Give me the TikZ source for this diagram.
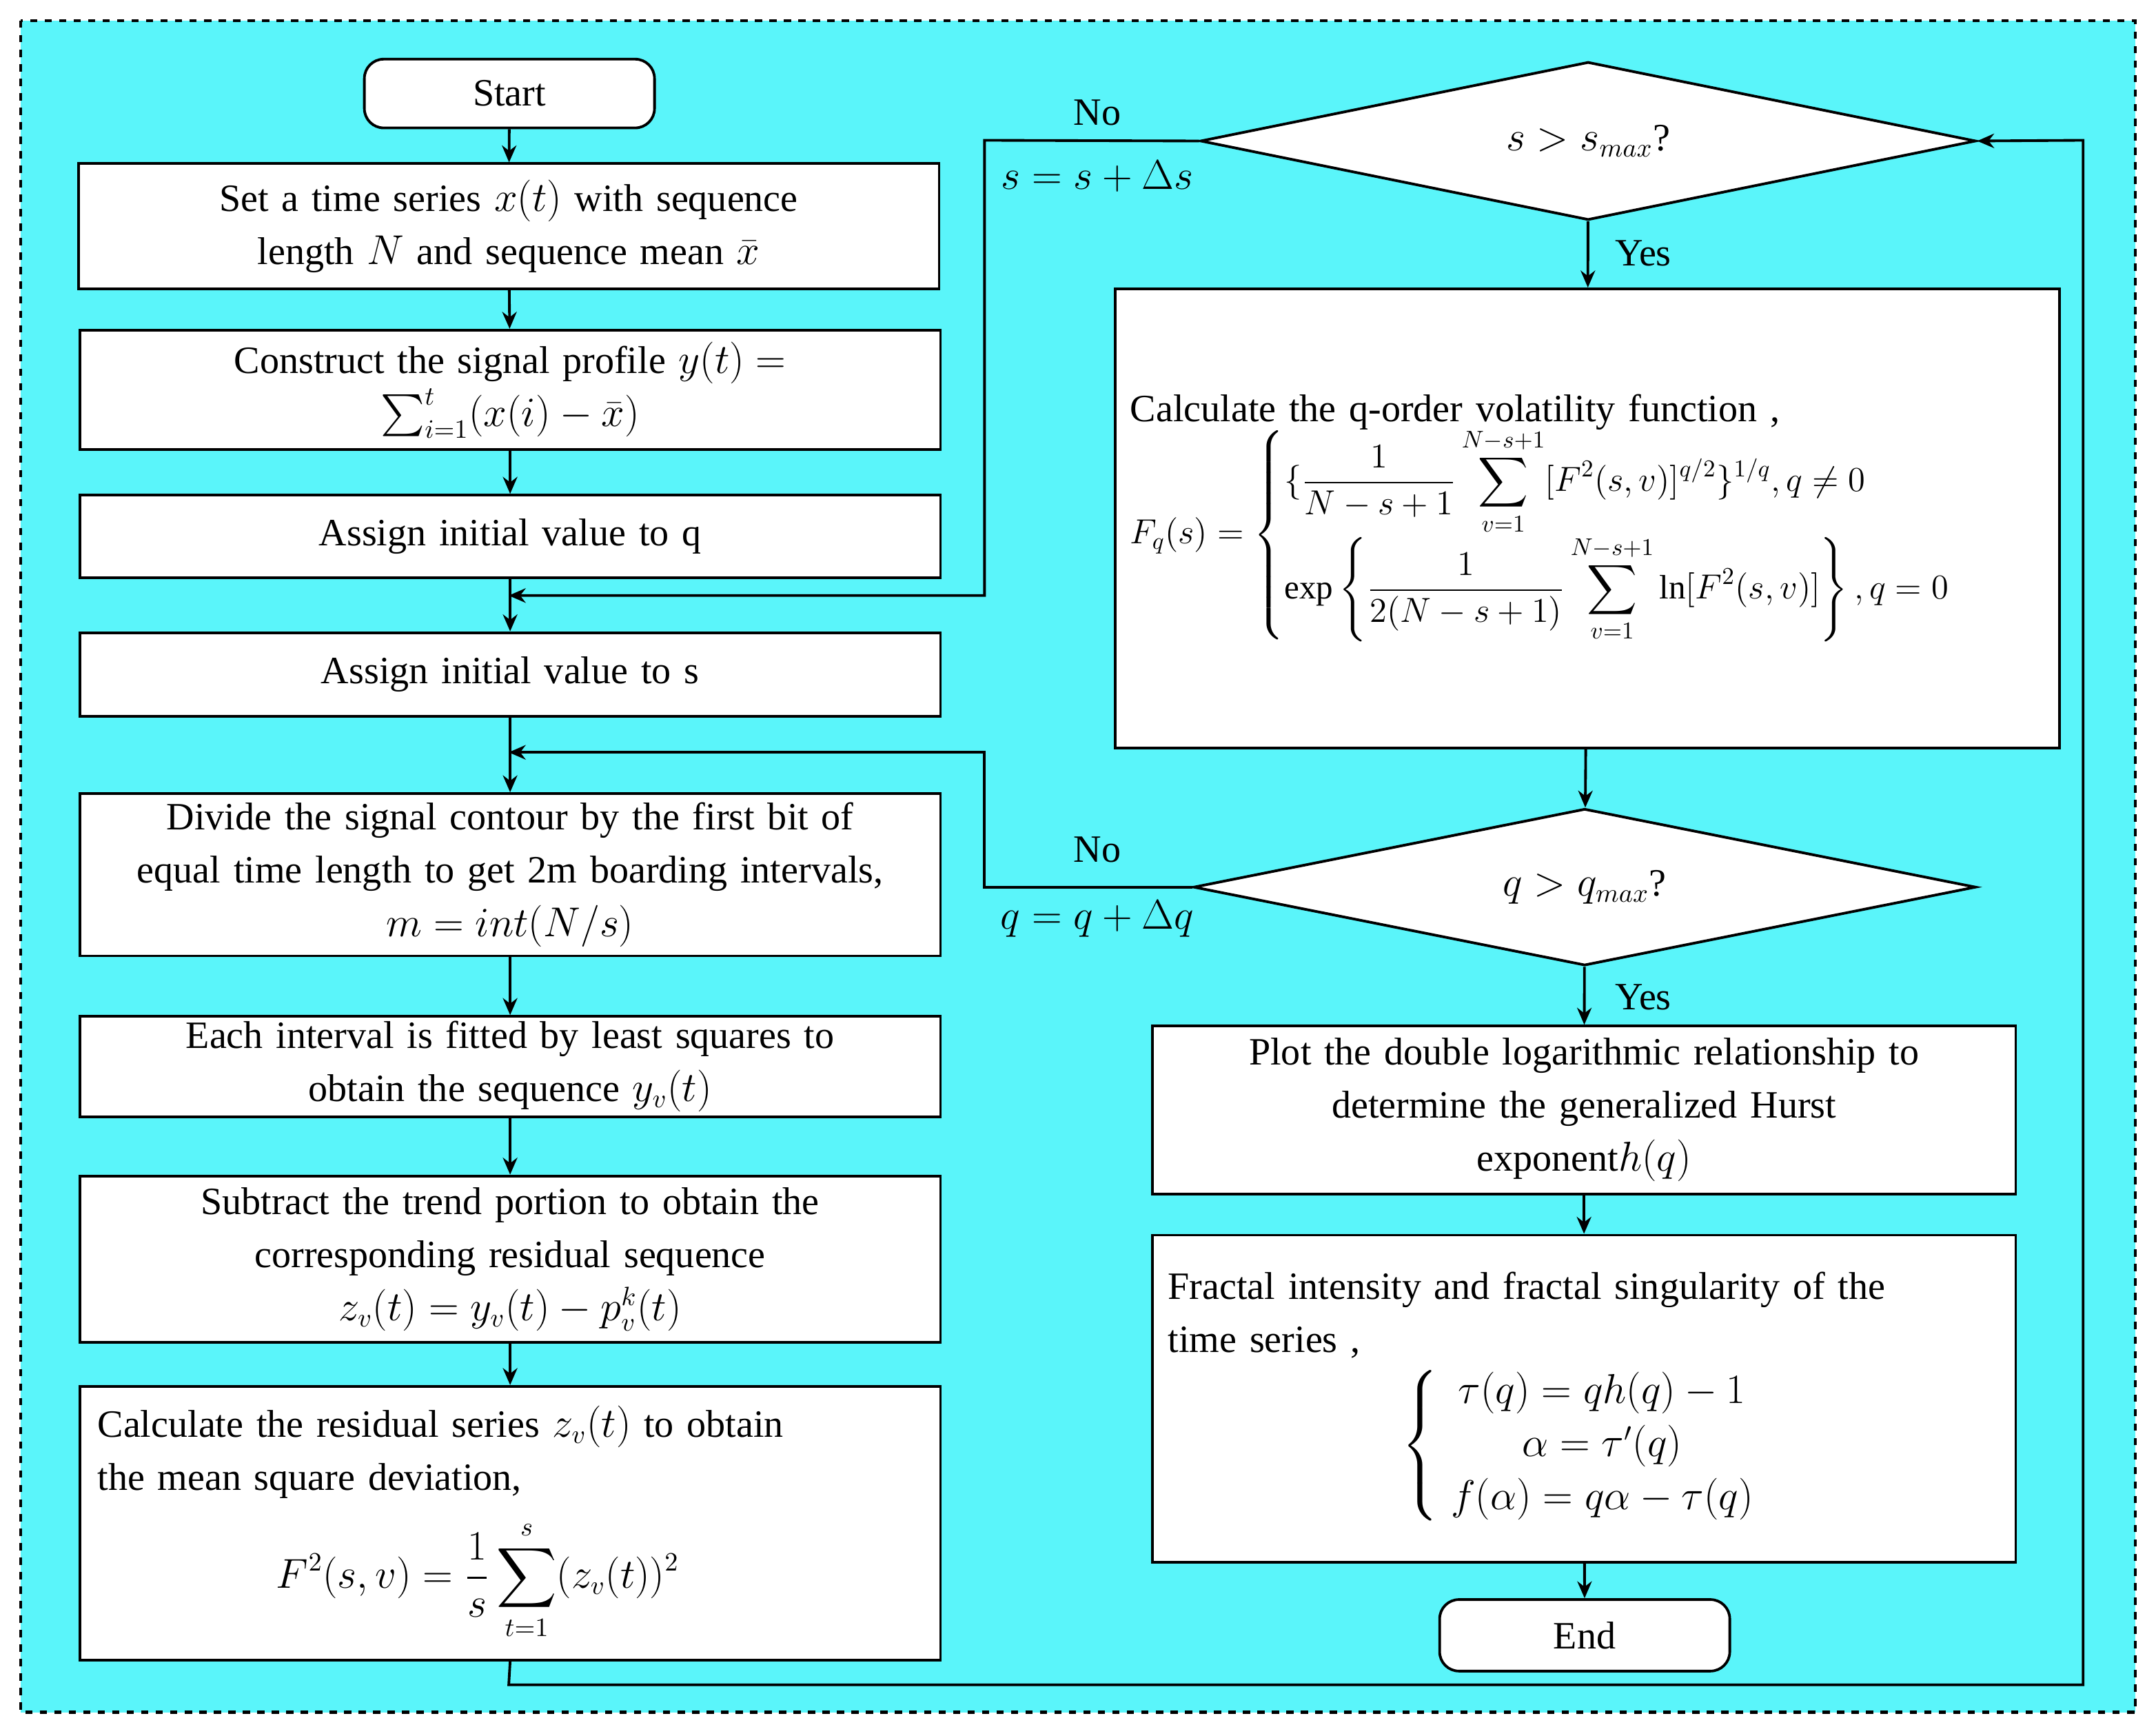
\documentclass[tikz,border=0pt]{standalone}
\usepackage{amsmath}
\usepackage{fontspec}
\setmainfont{Liberation Serif}
\usetikzlibrary{shapes.geometric,arrows.meta}
\definecolor{bg}{RGB}{90,245,250}
\def\u{0.02cm}
\begin{document}
\begin{tikzpicture}[x=0.02cm,y=-0.02cm,
 box/.style={draw,line width=1.1pt,fill=white,align=center,inner sep=2pt,font=\fontsize{16pt}{22pt}\selectfont},
 term/.style={box,rounded corners=8pt},
 dia/.style={draw,line width=1.1pt,fill=white,diamond,inner sep=0pt,font=\fontsize{16pt}{20pt}\selectfont},
 arr/.style={line width=1.1pt,-{Stealth[length=7pt,width=6pt]}},
 lbl/.style={font=\fontsize{16pt}{19pt}\selectfont}]
\useasboundingbox (0,0) rectangle (1568,1262);
\draw[dashed,line width=1.3pt,fill=bg] (15,15) rectangle (1553,1245);
\node[term,minimum width=211*\u,minimum height=50*\u] (start) at (370.5,68) {Start};
\node[box,minimum width=626*\u,minimum height=91*\u,text width=610*\u] (b1) at (370,164.5) {Set a time series \mbox{$x(t)$} with sequence\\ length \mbox{$N$} and sequence mean \mbox{$\bar{x}$}};
\node[box,minimum width=626*\u,minimum height=87*\u,text width=610*\u] (b2) at (371,283.5) {Construct the signal profile \mbox{$y(t)=$}\\ \mbox{$\sum_{i=1}^{t}(x(i)-\bar{x})$}};
\node[box,minimum width=626*\u,minimum height=60*\u,text width=610*\u] (b3) at (371,390) {Assign initial value to q};
\node[box,minimum width=626*\u,minimum height=61*\u,text width=610*\u] (b4) at (371,490.5) {Assign initial value to s};
\node[box,minimum width=626*\u,minimum height=118*\u,text width=610*\u] (b5) at (371,636) {Divide the signal contour by the first bit of\\ equal time length to get 2m boarding intervals,\\ \mbox{$m=int(N/s)$}};
\node[box,minimum width=626*\u,minimum height=71*\u,text width=610*\u] (b6) at (371,775.5) {Each interval is fitted by least squares to\\ obtain the sequence \mbox{$y_v(t)$}};
\node[box,minimum width=626*\u,minimum height=121*\u,text width=610*\u] (b7) at (371,915.5) {Subtract the trend portion to obtain the\\ corresponding residual sequence\\ \mbox{$z_v(t)=y_v(t)-p_v^k(t)$}};
\node[box,minimum width=626*\u,minimum height=199*\u,text width=600*\u,align=left] (b8) at (371,1107.5) {Calculate the residual series \mbox{$z_v(t)$} to obtain\\ the mean square deviation,\\[8pt]
 \hspace*{2.6cm}\mbox{$\displaystyle F^2(s,v)=\frac{1}{s}\sum_{t=1}^{s}(z_v(t))^2$}};
\node[dia,minimum width=564*\u,minimum height=115*\u,aspect=4.9] (d1) at (1155,102.5) {$s>s_{max}$?};
\node[box,minimum width=687*\u,minimum height=334*\u,text width=665*\u,align=left] (r1) at (1154.5,377) {Calculate the q-order volatility function ,\\[-2pt]
 {\fontsize{14pt}{18pt}\selectfont\mbox{$F_q(s)=\begin{cases}\{\dfrac{1}{N-s+1}\displaystyle\sum_{v=1}^{N-s+1}[F^2(s,v)]^{q/2}\}^{1/q},q\neq 0\\[4pt]
 \exp\left\{\dfrac{1}{2(N-s+1)}\displaystyle\sum_{v=1}^{N-s+1}\ln[F^2(s,v)]\right\},q=0\end{cases}$}}};
\node[dia,minimum width=569*\u,minimum height=114*\u,aspect=5] (d2) at (1152.5,645) {$q>q_{max}$?};
\node[box,minimum width=628*\u,minimum height=122*\u,text width=610*\u] (r2) at (1152,807) {Plot the double logarithmic relationship to\\ determine the generalized Hurst\\ exponent\mbox{$h(q)$}};
\node[box,minimum width=628*\u,minimum height=238*\u,text width=605*\u,align=left] (r3) at (1152,1017) {Fractal intensity and fractal singularity of the\\ time series ,\\[2pt]
 \hspace*{3.4cm}\mbox{$\left\{\begin{array}{c}\tau(q)=qh(q)-1\\ \alpha=\tau'(q)\\ f(\alpha)=q\alpha-\tau(q)\end{array}\right.$}};
\node[term,minimum width=211*\u,minimum height=52*\u] (end) at (1152.5,1189) {End};
\coordinate (j1) at (370,433);
\coordinate (j2) at (370,547);
\coordinate (c1) at (716,102);
\coordinate (c2) at (716,433);
\coordinate (c3) at (716,645);
\coordinate (c4) at (716,547);
\coordinate (c5) at (370,1225);
\coordinate (c6) at (1515,1225);
\coordinate (c7) at (1515,102);
\draw[arr] (start) -- (b1);
\draw[arr] (b1) -- (b2);
\draw[arr] (b2) -- (b3);
\draw[arr] (b3) -- (b4);
\draw[arr] (b4) -- (b5);
\draw[arr] (b5) -- (b6);
\draw[arr] (b6) -- (b7);
\draw[arr] (b7) -- (b8);
\draw[arr] (d1.west) -- (c1) -- (c2) -- (j1);
\draw[arr] (d2.west) -- (c3) -- (c4) -- (j2);
\draw[arr] (b8.south) -- (c5) -- (c6) -- (c7) -- (d1.east);
\draw[arr] (d1) -- (r1);
\draw[arr] (r1) -- (d2);
\draw[arr] (d2) -- (r2);
\draw[arr] (r2) -- (r3);
\draw[arr] (r3) -- (end);
\node[lbl] at (798,82) {No};
\node[lbl] at (798,128) {$s=s+\Delta s$};
\node[lbl] at (798,618) {No};
\node[lbl] at (798,668) {$q=q+\Delta q$};
\node[lbl] at (1195,184) {Yes};
\node[lbl] at (1195,725) {Yes};
\end{tikzpicture}
\end{document}
